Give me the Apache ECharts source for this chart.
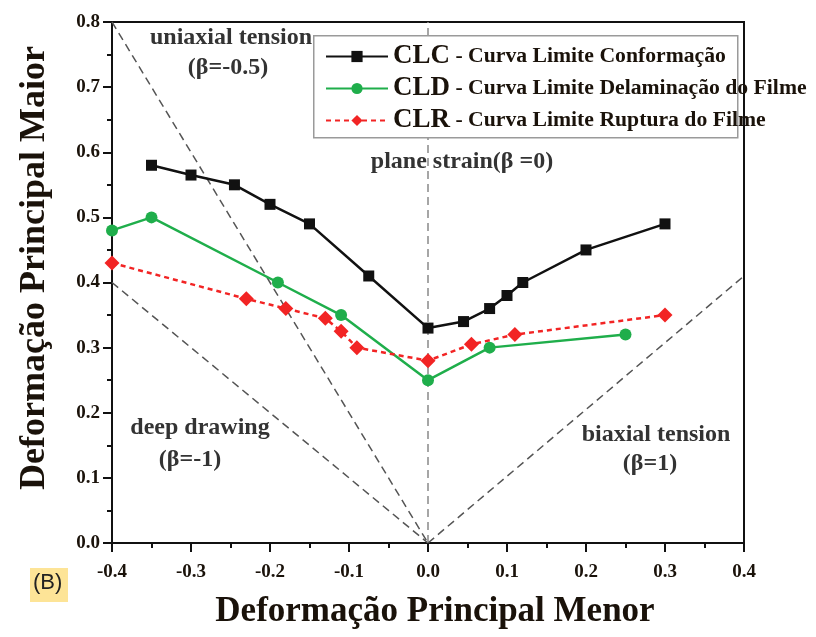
<!DOCTYPE html>
<html>
<head>
<meta charset="utf-8">
<script src="https://cdn.jsdelivr.net/npm/echarts@6/dist/echarts.min.js"></script>
<style>html,body{margin:0;padding:0;background:#fff}#c{width:816px;height:637px}</style>
</head>
<body>
<div id="c"></div>
<script>
// Data
const clcX = [-0.35, -0.30, -0.245, -0.20, -0.15, -0.075, 0.0, 0.045, 0.078, 0.10, 0.12, 0.20, 0.30];
const clcY = [0.58, 0.565, 0.55, 0.52, 0.49, 0.41, 0.33, 0.34, 0.36, 0.38, 0.40, 0.45, 0.49];
const cldX = [-0.40, -0.35, -0.19, -0.11, 0.0, 0.078, 0.25];
const cldY = [0.48, 0.50, 0.40, 0.35, 0.25, 0.30, 0.32];
const clrX = [-0.40, -0.23, -0.18, -0.13, -0.11, -0.09, 0.0, 0.055, 0.11, 0.30];
const clrY = [0.43, 0.375, 0.36, 0.345, 0.325, 0.30, 0.28, 0.305, 0.32, 0.35];
// Strain-path reference lines (minor, major)
const uniaxial = [[-0.4, 0.8], [0, 0]];
const deepDrawing = [[-0.4, 0.4], [0, 0]];
const planeStrain = [[0, 0], [0, 0.8]];
const biaxial = [[0, 0], [0.4, 0.41]];
const legendNames = ['CLC', 'CLD', 'CLR'];
const legendDesc = ['Curva Limite Conformação', 'Curva Limite Delaminação do Filme', 'Curva Limite Ruptura do Filme'];
const xTitle = 'Deformação Principal Menor';
const yTitle = 'Deformação Principal Maior';

const zip = (xs, ys) => xs.map((x, i) => [x, ys[i]]);
const serif = '"Liberation Serif", "DejaVu Serif", serif';
const txt = '#1a120a';
const note = '#333';

const refLine = (data, color) => ({
  type: 'line', data, symbol: 'none', silent: true, z: 1,
  lineStyle: { color, width: 1.5, type: [8, 5] }
});
const label = (text, x, y) => ({
  type: 'text', x, y, z: 3,
  style: { text, font: 'bold 24px ' + serif, fill: note, align: 'center', verticalAlign: 'middle' }
});

const chart = echarts.init(document.getElementById('c'));
chart.setOption({
  animation: false,
  backgroundColor: '#fff',
  grid: { left: 112, right: 72, top: 22, bottom: 94, show: true, borderColor: '#111', borderWidth: 2 },
  xAxis: {
    type: 'value', min: -0.4, max: 0.4, interval: 0.1,
    axisLine: { show: true, onZero: false, lineStyle: { color: '#111', width: 2 } },
    axisTick: { show: true, length: 9, lineStyle: { color: '#111', width: 2 } },
    minorTick: { show: true, splitNumber: 2, length: 5, lineStyle: { color: '#111', width: 2 } },
    splitLine: { show: false },
    axisLabel: { fontFamily: serif, fontWeight: 'bold', fontSize: 19, color: txt, margin: 20,
      formatter: v => v.toFixed(1) }
  },
  yAxis: {
    type: 'value', min: 0, max: 0.8, interval: 0.1,
    axisLine: { show: true, onZero: false, lineStyle: { color: '#111', width: 2 } },
    axisTick: { show: true, length: 9, lineStyle: { color: '#111', width: 2 } },
    minorTick: { show: true, splitNumber: 2, length: 5, lineStyle: { color: '#111', width: 2 } },
    splitLine: { show: false },
    axisLabel: { fontFamily: serif, fontWeight: 'bold', fontSize: 19, color: txt, margin: 12,
      formatter: v => v.toFixed(1) }
  },
  legend: {
    orient: 'vertical', left: 313, top: 39, z: 20,
    padding: [4, 0, 0, 12], itemGap: 5, itemWidth: 62, itemHeight: 14,
    backgroundColor: 'transparent', borderWidth: 0,
    data: legendNames,
    formatter: n => '{a|' + n + '}{b| - ' + legendDesc[legendNames.indexOf(n)] + '}',
    textStyle: {
      rich: {
        a: { fontFamily: serif, fontWeight: 'bold', fontSize: 27, color: txt, height: 27, verticalAlign: 'middle' },
        b: { fontFamily: serif, fontWeight: 'bold', fontSize: 21.7, color: txt, verticalAlign: 'middle' }
      }
    }
  },
  graphic: [
    { type: 'rect', left: 313, top: 35, z: 10, shape: { width: 424, height: 102 },
      style: { fill: '#fff', stroke: '#9a9a9a', lineWidth: 1.5 } },
    label('uniaxial tension', 231, 38),
    label('(β=-0.5)', 228, 68),
    label('plane strain(β =0)', 462, 162),
    label('deep drawing', 200, 428),
    label('(β=-1)', 190, 460),
    label('biaxial tension', 656, 435),
    label('(β=1)', 650, 464),
    { type: 'text', x: 435, y: 612, style: { text: xTitle, font: 'bold 35px ' + serif, fill: txt, align: 'center', verticalAlign: 'middle' } },
    { type: 'text', x: 35, y: 268, rotation: Math.PI / 2, style: { text: yTitle, font: 'bold 36px ' + serif, fill: txt, align: 'center', verticalAlign: 'middle' } },
    { type: 'rect', left: 30, top: 568, shape: { width: 38, height: 34 }, style: { fill: '#fde497' } },
    { type: 'text', left: 33, top: 572, style: { text: '(B)', font: '22px "Liberation Sans", Arial, sans-serif', fill: '#222' } }
  ],
  series: [
    refLine(uniaxial, '#555'),
    refLine(deepDrawing, '#555'),
    refLine(planeStrain, '#888'),
    refLine(biaxial, '#555'),
    {
      name: 'CLC', type: 'line', data: zip(clcX, clcY), z: 5,
      symbol: 'rect', symbolSize: 11,
      lineStyle: { color: '#111', width: 2.5 }, itemStyle: { color: '#111' }
    },
    {
      name: 'CLD', type: 'line', data: zip(cldX, cldY), z: 4,
      symbol: 'circle', symbolSize: 12,
      lineStyle: { color: '#1fae4b', width: 2.5 }, itemStyle: { color: '#1fae4b' }
    },
    {
      name: 'CLR', type: 'line', data: zip(clrX, clrY), z: 6,
      symbol: 'diamond', symbolSize: 15,
      lineStyle: { color: '#f22424', width: 2.5, type: [5, 4] }, itemStyle: { color: '#f22424' }
    }
  ]
});
</script>
</body>
</html>
